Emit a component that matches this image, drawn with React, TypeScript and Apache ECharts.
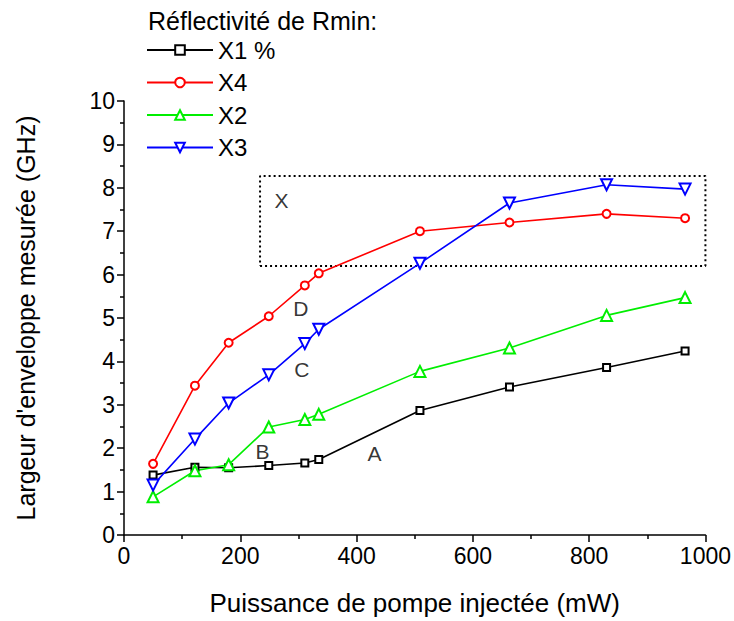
import React, { useEffect, useRef } from "react";
import * as echarts from "echarts";

const power = [50, 122, 180, 249, 311, 335, 509, 663, 830, 965];
const seriesNames = ["X1 %", "X4", "X2", "X3"];
const valuesX1 = [1.38, 1.56, 1.55, 1.6, 1.66, 1.74, 2.87, 3.41, 3.86, 4.24];
const valuesX4 = [1.64, 3.44, 4.43, 5.04, 5.75, 6.03, 7.0, 7.2, 7.4, 7.3];
const valuesX2 = [0.88, 1.48, 1.62, 2.49, 2.66, 2.78, 3.77, 4.31, 5.06, 5.47];
const valuesX3 = [1.15, 2.21, 3.04, 3.69, 4.41, 4.74, 6.26, 7.65, 8.07, 7.97];
const boxX = [234, 1000];
const boxY = [6.2, 8.27];
const noteNames = ["A", "B", "C", "D", "X"];
const noteX = [431, 238, 306, 304, 271];
const noteY = [1.88, 1.93, 3.81, 5.21, 7.71];
const xTicks = [0, 200, 400, 600, 800, 1000];
const yTicks = [0, 1, 2, 3, 4, 5, 6, 7, 8, 9, 10];

const FONT = "'Liberation Sans', Arial, sans-serif";

function pairs(ys: number[]) {
  return power.map((x, i) => [x, ys[i]]);
}

export default function App() {
  const ref = useRef<HTMLDivElement>(null);
  useEffect(() => {
    if (!ref.current) return;
    const chart = echarts.init(ref.current, undefined, { renderer: "svg" });
    const lineSeries = (
      name: string,
      ys: number[],
      color: string,
      symbol: string,
      size: number,
      rotate = 0
    ) => ({
      name,
      type: "line",
      data: pairs(ys),
      symbol,
      symbolSize: size,
      symbolRotate: rotate,
      showAllSymbol: true,
      color,
      lineStyle: { color, width: 1.6 },
      itemStyle: { color, borderWidth: 1.6 },
      z: 3,
    });
    const box = [
      [boxX[0], boxY[0]],
      [boxX[1], boxY[0]],
      [boxX[1], boxY[1]],
      [boxX[0], boxY[1]],
      [boxX[0], boxY[0]],
    ];
    chart.setOption({
      animation: false,
      backgroundColor: "#fff",
      textStyle: { fontFamily: FONT },
      grid: { left: 124, right: 28, top: 101, bottom: 85 },
      graphic: [
        {
          type: "text",
          left: 148,
          top: 8,
          style: {
            text: "Réflectivité de Rmin:",
            fontSize: 25,
            fontFamily: FONT,
            fill: "#000",
          },
        },
      ],
      legend: {
        data: seriesNames,
        orient: "vertical",
        left: 146,
        top: 38,
        padding: 0,
        itemWidth: 66,
        itemHeight: 12,
        itemGap: 8.5,
        textStyle: { fontSize: 24, fontFamily: FONT, color: "#000", lineHeight: 24 },
      },
      xAxis: {
        type: "value",
        min: xTicks[0],
        max: xTicks[xTicks.length - 1],
        interval: 200,
        name: "Puissance de pompe injectée (mW)",
        nameLocation: "middle",
        nameGap: 55,
        nameTextStyle: { fontSize: 26, color: "#000", fontFamily: FONT },
        axisLine: { show: true, onZero: false, lineStyle: { color: "#000", width: 1.5 } },
        axisTick: { show: true, inside: false, length: 7, lineStyle: { color: "#000", width: 1.5 } },
        minorTick: { show: true, splitNumber: 2, length: 4, lineStyle: { color: "#000", width: 1.5 } },
        axisLabel: { fontSize: 23, color: "#000", margin: 9, fontFamily: FONT, formatter: (v: number) => String(v) },
        splitLine: { show: false },
      },
      yAxis: {
        type: "value",
        min: yTicks[0],
        max: yTicks[yTicks.length - 1],
        interval: 1,
        name: "Largeur d'enveloppe mesurée (GHz)",
        nameLocation: "middle",
        nameGap: 86,
        nameTextStyle: { fontSize: 25, color: "#000", fontFamily: FONT },
        axisLine: { show: true, lineStyle: { color: "#000", width: 1.5 } },
        axisTick: { show: true, inside: false, length: 7, lineStyle: { color: "#000", width: 1.5 } },
        minorTick: { show: true, splitNumber: 2, length: 4, lineStyle: { color: "#000", width: 1.5 } },
        axisLabel: { fontSize: 23, color: "#000", margin: 9, fontFamily: FONT, formatter: (v: number) => String(v) },
        splitLine: { show: false },
      },
      series: [
        lineSeries(seriesNames[0], valuesX1, "#000000", "emptyRect", 7),
        lineSeries(seriesNames[1], valuesX4, "#ff0000", "emptyCircle", 8),
        lineSeries(seriesNames[2], valuesX2, "#00ee00", "emptyTriangle", 11),
        lineSeries(seriesNames[3], valuesX3, "#0000ff", "emptyTriangle", 11, 180),
        {
          name: "box",
          type: "line",
          data: box,
          symbol: "none",
          lineStyle: { color: "#000", width: 2, type: [2, 3] },
          z: 2,
          silent: true,
        },
        {
          name: "notes",
          type: "scatter",
          data: noteNames.map((n, i) => ({ name: n, value: [noteX[i], noteY[i]] })),
          symbolSize: 0,
          label: {
            show: true,
            position: [0, 0],
            align: "center",
            verticalAlign: "middle",
            formatter: "{b}",
            fontSize: 21,
            color: "#000",
            textBorderWidth: 0,
            fontFamily: FONT,
          },
          silent: true,
        },
      ],
    });
    return () => chart.dispose();
  }, []);
  return (
    <div
      ref={ref}
      style={{ position: "fixed", left: 0, top: 0, width: 734, height: 621 }}
    />
  );
}
